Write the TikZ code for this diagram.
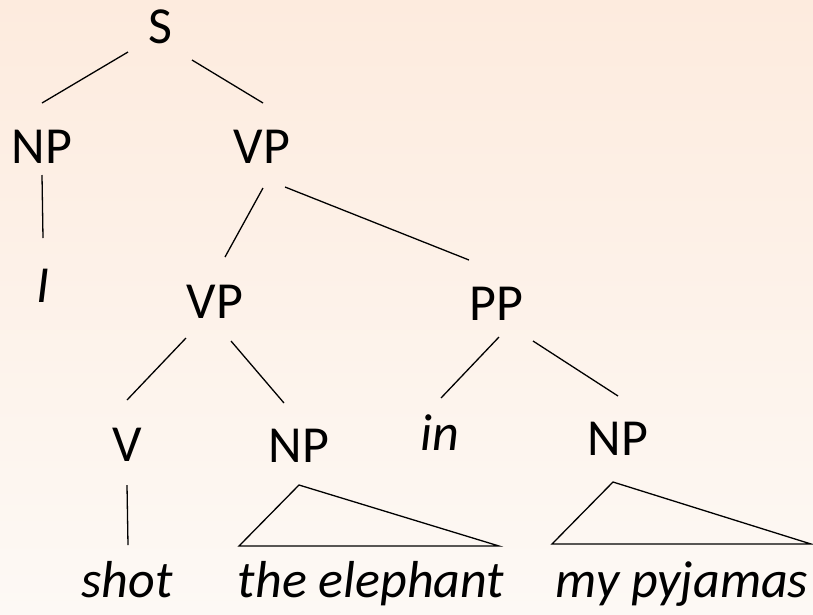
\documentclass[tikz,border=0pt]{standalone}
\usepackage{fontspec}
\setmainfont{Carlito}
\usetikzlibrary{calc}
\definecolor{bgtop}{HTML}{FDEBDE}
\definecolor{bgbot}{HTML}{FDF9F5}
\begin{document}
\begin{tikzpicture}[x=1pt,y=-1pt,
  lab/.style={anchor=base,inner sep=0pt,font=\fontsize{52}{60}\selectfont},
  leaf/.style={lab,font=\fontsize{52}{60}\selectfont\itshape},
  edge/.style={draw=black,line width=1.3pt}]
\useasboundingbox (0,0) rectangle (813,614);
\shade[top color=bgtop,bottom color=bgbot] (0,0) rectangle (813,614);
% nodes
\node[lab] (S) at (160,43) {S};
\node[lab] (NPa) at (42,163) {NP};
\node[lab] (VPa) at (262,163) {VP};
\node[leaf] (I) at (43,302) {I};
\node[lab] (VPb) at (215,318) {VP};
\node[lab] (PP) at (496,320) {PP};
\node[lab] (V) at (127,461) {V};
\node[lab] (NPb) at (299,462) {NP};
\node[leaf] (in) at (440,450) {in};
\node[lab] (NPc) at (618,455) {NP};
\node[leaf] (shot) at (127,597) {shot};
\node[leaf] (eleph) at (371,597) {the elephant};
\node[leaf] (pyj) at (682,597) {my pyjamas};
% edges
\draw[edge] ($(S.base)+(-32,9)$) -- ($(NPa.base)+(0,-60)$);
\draw[edge] ($(S.base)+(32,17)$) -- ($(VPa.base)+(1,-60)$);
\draw[edge] ($(NPa.base)+(0,12)$) -- ($(I.base)+(0,-64)$);
\draw[edge] ($(VPa.base)+(1,25)$) -- ($(VPb.base)+(10,-61)$);
\draw[edge] ($(VPa.base)+(23,24)$) -- ($(PP.base)+(-27,-60)$);
\draw[edge] ($(VPb.base)+(-29,20)$) -- ($(V.base)+(0,-61)$);
\draw[edge] ($(VPb.base)+(16,23)$) -- ($(NPb.base)+(-15,-59)$);
\draw[edge] ($(PP.base)+(3,17)$) -- ($(in.base)+(1,-52)$);
\draw[edge] ($(PP.base)+(37,21)$) -- ($(NPc.base)+(0,-59)$);
\draw[edge] ($(V.base)+(0,24)$) -- ($(shot.base)+(1,-52)$);
\draw[edge,line join=miter] ($(NPb.base)+(0,23)$) -- ($(eleph.base)+(-132,-51)$) -- ($(eleph.base)+(128,-51)$) -- cycle;
\draw[edge,line join=miter] ($(NPc.base)+(-5,27)$) -- ($(pyj.base)+(-130,-53)$) -- ($(pyj.base)+(129,-53)$) -- cycle;
\end{tikzpicture}
\end{document}
